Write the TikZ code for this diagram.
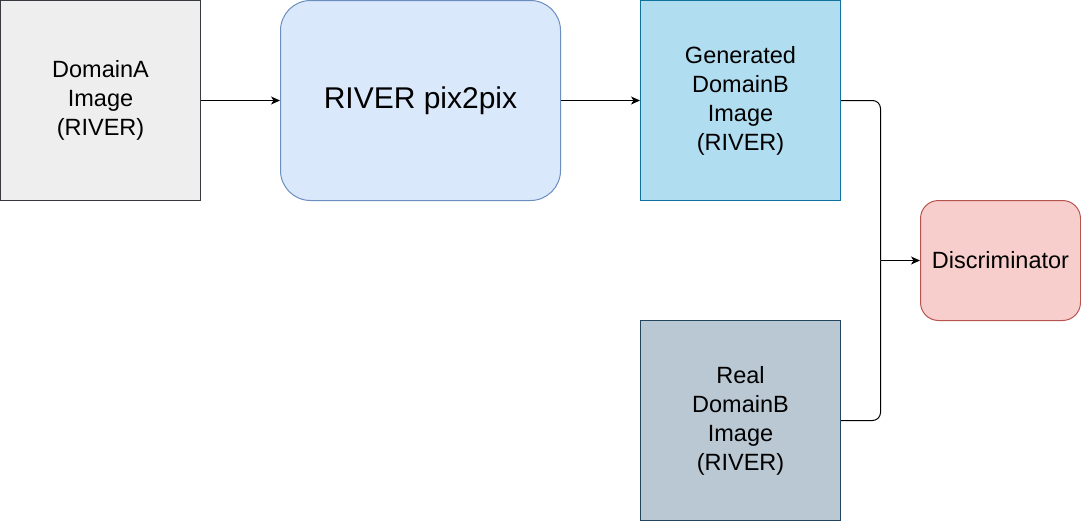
\documentclass[tikz,border=0pt]{standalone}
\usepackage{fontspec}
\setmainfont{Liberation Sans}
\usetikzlibrary{arrows.meta,positioning}
\definecolor{grayfill}{HTML}{EEEEEE}
\definecolor{graydraw}{HTML}{36393D}
\definecolor{bluefill}{HTML}{DAE8FC}
\definecolor{bluedraw}{HTML}{6C8EBF}
\definecolor{cyanfill}{HTML}{B1DDF0}
\definecolor{cyandraw}{HTML}{10739E}
\definecolor{slatefill}{HTML}{BAC8D3}
\definecolor{slatedraw}{HTML}{23445D}
\definecolor{redfill}{HTML}{F8CECC}
\definecolor{reddraw}{HTML}{B85450}
\tikzset{
  box/.style={draw, line width=1pt, minimum width=200pt, minimum height=200pt, inner sep=0pt, align=center, font=\fontsize{23.5}{29}\selectfont},
  conn/.style={line width=1pt, -{Stealth[length=9pt,width=8pt,inset=2.5pt]}},
  wire/.style={line width=1pt, rounded corners=8pt},
}
\begin{document}
\begin{tikzpicture}[x=1pt,y=-1pt]
\useasboundingbox (0,0) rectangle (1081,522);
\node[box, fill=grayfill, draw=graydraw] (a) at (100.5,100.5) {DomainA\\Image\\(RIVER)};
\node[box, fill=bluefill, draw=bluedraw, minimum width=280pt, rounded corners=30pt, font=\fontsize{30}{36}\selectfont] (p) at (420.5,100.5) {RIVER pix2pix};
\node[box, fill=cyanfill, draw=cyandraw] (g) at (740.5,100.5) {Generated\\DomainB\\Image\\(RIVER)};
\node[box, fill=slatefill, draw=slatedraw] (r) at (740.5,420.5) {Real\\DomainB\\Image\\(RIVER)};
\node[box, fill=redfill, draw=reddraw, minimum width=160pt, minimum height=120pt, rounded corners=18pt] (d) at (1000.5,260.5) {Discriminator};
\coordinate (j) at (880.5,260.5);
\draw[conn] (a) -- (p);
\draw[conn] (p) -- (g);
\draw[wire] (g.east) -| (j);
\draw[wire] (r.east) -| (j);
\draw[conn] (j) -- (d.west);
\end{tikzpicture}
\end{document}
